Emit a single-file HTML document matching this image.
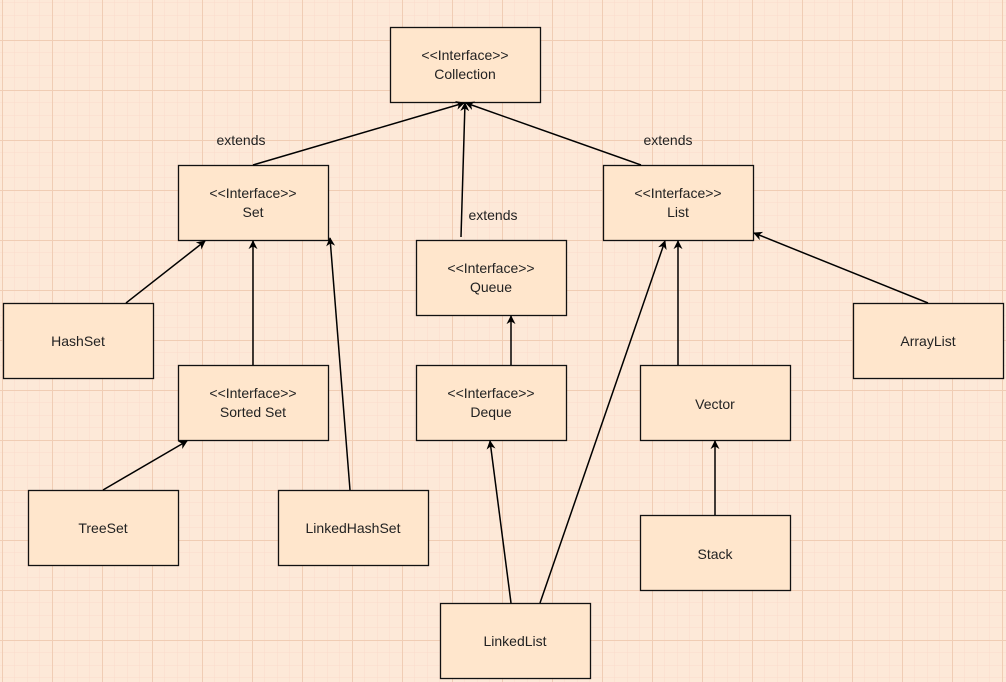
<!DOCTYPE html>
<html><head><meta charset="utf-8"><style>
html,body{margin:0;padding:0;}
body{width:1006px;height:682px;overflow:hidden;background:#fde9d8;}
svg{display:block;}
text{font-family:"Liberation Sans",Arial,sans-serif;font-size:14px;fill:#222;}
</style></head><body>
<svg width="1006" height="682" xmlns="http://www.w3.org/2000/svg">
<defs>
<pattern id="minor" x="2" y="-10" width="12.5" height="12.5" patternUnits="userSpaceOnUse">
<path d="M0 0H12.5M0 0V12.5" stroke="#fadccb" stroke-width="1" fill="none"/>
</pattern>
<pattern id="major" x="2" y="40" width="50" height="50" patternUnits="userSpaceOnUse">
<path d="M0 0.5H50M0.5 0V50" stroke="#f0cdb4" stroke-width="1" fill="none"/>
</pattern>
<marker id="a" viewBox="0 0 10 10" refX="9" refY="5" markerWidth="9" markerHeight="9" orient="auto" markerUnits="userSpaceOnUse">
<path d="M0 0L10 5L0 10L3 5Z" fill="#000"/>
</marker>
</defs>
<rect width="1006" height="682" fill="#fde9d8"/>
<rect width="1006" height="682" fill="url(#minor)"/>
<rect width="1006" height="682" fill="url(#major)"/>
<g fill="#ffe6cc" stroke="#111" stroke-width="1.3">
<rect x="390.5" y="27.5" width="150" height="75"/>
<rect x="178.5" y="165.5" width="150" height="75"/>
<rect x="603.5" y="165.5" width="150" height="75"/>
<rect x="416.5" y="240.5" width="150" height="75"/>
<rect x="3.5" y="303.5" width="150" height="75"/>
<rect x="853.5" y="303.5" width="150" height="75"/>
<rect x="178.5" y="365.5" width="150" height="75"/>
<rect x="416.5" y="365.5" width="150" height="75"/>
<rect x="640.5" y="365.5" width="150" height="75"/>
<rect x="28.5" y="490.5" width="150" height="75"/>
<rect x="278.5" y="490.5" width="150" height="75"/>
<rect x="640.5" y="515.5" width="150" height="75"/>
<rect x="440.5" y="603.5" width="150" height="75"/>
</g>
<g stroke="#000" stroke-width="1.5" marker-end="url(#a)">
<line x1="253" y1="165" x2="464" y2="103"/>
<line x1="461" y1="237" x2="465" y2="103"/>
<line x1="641" y1="165" x2="466" y2="103"/>
<line x1="126" y1="303" x2="205" y2="241"/>
<line x1="253" y1="365" x2="253" y2="241"/>
<line x1="350" y1="490" x2="330" y2="238"/>
<line x1="103" y1="490" x2="187" y2="441"/>
<line x1="511" y1="365" x2="511" y2="316"/>
<line x1="511" y1="603" x2="490" y2="441"/>
<line x1="540" y1="603" x2="665" y2="241"/>
<line x1="678" y1="365" x2="678" y2="241"/>
<line x1="715" y1="515" x2="715" y2="441"/>
<line x1="928" y1="303" x2="754" y2="233"/>
</g>
<g text-anchor="middle">
<text x="465" y="60">&lt;&lt;Interface&gt;&gt;</text><text x="465" y="79">Collection</text>
<text x="253" y="198">&lt;&lt;Interface&gt;&gt;</text><text x="253" y="217">Set</text>
<text x="678" y="198">&lt;&lt;Interface&gt;&gt;</text><text x="678" y="217">List</text>
<text x="491" y="273">&lt;&lt;Interface&gt;&gt;</text><text x="491" y="292">Queue</text>
<text x="78" y="346">HashSet</text>
<text x="928" y="346">ArrayList</text>
<text x="253" y="398">&lt;&lt;Interface&gt;&gt;</text><text x="253" y="417">Sorted Set</text>
<text x="491" y="398">&lt;&lt;Interface&gt;&gt;</text><text x="491" y="417">Deque</text>
<text x="715" y="409">Vector</text>
<text x="103" y="533">TreeSet</text>
<text x="353" y="533">LinkedHashSet</text>
<text x="715" y="559">Stack</text>
<text x="515" y="646">LinkedList</text>
<text x="241" y="145">extends</text>
<text x="493" y="220">extends</text>
<text x="668" y="145">extends</text>
</g>
</svg>
</body></html>
